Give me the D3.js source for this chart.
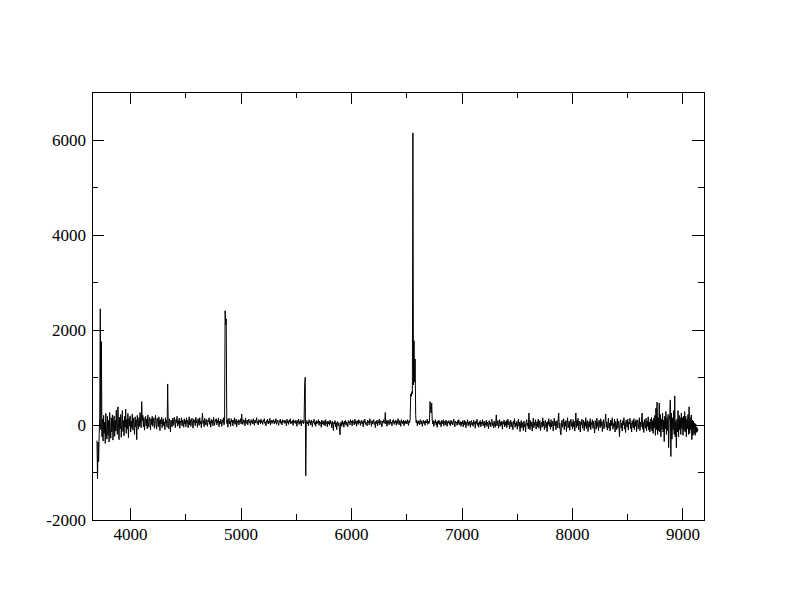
<!DOCTYPE html>
<html>
<head>
<meta charset="utf-8">
<script src="https://cdn.jsdelivr.net/npm/d3@7/dist/d3.min.js"></script>
<style>
  html, body { margin: 0; padding: 0; background: #fff; }
  svg { display: block; }
</style>
</head>
<body>
<svg id="chart" width="792" height="612"></svg>
<script>
// Spectrum sampled every 5 Å; each block lists fluxes from its start wavelength
const sampleStep = 5;

const start3700 = 3700;
const flux3700 = [
  -330, -1130, -360, -770, -200, 150, 2440, -100, 1750, -250,
  120, -340, 200, -180, 60, -390, 240, -120, -300, 180,
  -220, 90, -360, 260, -60, -280, 150, -150, 210, -320,
  40, 190, -240, 100, -130, 310, -90, -200, 380, -60,
  -310, 160, -80, 220, -260, 60, 300, -140, 90, -230,
  180, -50, 330, -180, 120, -90, 240, -270, 140, -20,
  190, -150, 80, -60, 230, -110, 140, 20, -200, 170,
  -40, 110, -310, 200, 30, -90, 150, -30, 260, 40,
  -60, 490, 90, 200, -40, 150, -110, 60, 180, -20,
  120, -80, 210, 30, -50, 160, 70, -100, 130, 10,
  180, -30, 90, 150, -70, 60, 200, 0, -90, 140,
  50, -40, 170, 90, -120, 110, 20, 160, -60, 80,
  130, -20, 60, -100, 150, 40, 90, -50, 860, 20,
  -80, 130, 60, -150, 100, 30, -40, 140, -10, 80,
  160, 20, -60, 110, 50, 180, -30, 90, 10, 140,
  -70, 80, 40, 150, -20, 100, 60, -50, 130, 20,
  90, -40, 150, 30, 100, -60, 70, 170, 0, 110,
  -30, 80, 140, 20, -70, 120, 50, 100, -20, 160,
  40, 90, -50, 130, 60, -10, 150, 20, 80, -60,
  110, 250, 30, 90, -40, 140, 60, 0, 120, 40
];

const start4700 = 4700;
const flux4700 = [
  -30, 100, 70, 150, 10, 80, -50, 120, 40, 90,
  -20, 160, 50, -10, 110, 70, 130, 0, 90, 40,
  140, -40, 80, 20, 120, 60, -30, 100, 50, 150,
  0, 70, 2400, 2100, 2230, 30, 110, -50, 90, 140,
  20, 80, -30, 130, 60, 100, -20, 90, 40, 150,
  10, 70, 120, -40, 80, 50, 110, 0, 90, 60,
  130, 20, 230, 70, 10, 110, 50, 90, -20, 140,
  60, 30, 100, 0, 80, 120, 40, 70, -10, 110,
  50, 90, 20, 130, 60, -10, 100, 40, 80, 150,
  30, 70, 0, 110, 60, 90, 20, 120, 50, 80,
  10, 100, 70, 130, 30, 60, -20, 90, 50, 120,
  20, 80, 40, 140, 0, 70, 100, 30, 90, 60,
  110, 20, 80, 50, 130, 10, 70, 100, 40, -10,
  90, 60, 120, 30, 80, 0, 110, 50, 70, 100,
  30, 90, 60, -20, 120, 40, 80, 10, 100, 60,
  130, 20, 70, 40, 90, -10, 110, 50, 80, 30,
  100, 60, -30, 90, 40, 120, 10, 70, 30, 110,
  -20, 80, 50, 100, 20, 60, 820, 1000, -1070, 40,
  90, 20, 60, -20, 110, 40, 70, 0, 100, 30,
  -40, 80, 50, 120, 10, 60, -30, 90, 20, 70
];

const start5700 = 5700;
const flux5700 = [
  40, 110, -10, 80, 30, 60, -50, 100, 20, 70,
  0, 90, 40, -20, 110, 30, 60, -40, 80, 20,
  70, -10, 100, 30, 50, -60, 80, 10, -120, 60,
  20, 90, -40, 50, -100, 30, 70, -20, 40, -80,
  -210, 30, 60, -30, 90, 10, 50, -50, 80, 20,
  100, -10, 60, 30, -40, 90, 40, 70, 0, 110,
  50, 80, -20, 100, 40, 60, 0, 120, 30, 70,
  -30, 90, 50, 10, 110, 40, 80, -10, 60, 100,
  20, 70, -40, 90, 50, 120, 10, 60, 30, -20,
  100, 40, 80, 0, 130, 50, 70, -30, 90, 20,
  60, 110, 10, 50, -60, 80, 30, 100, -20, 70,
  40, 120, 0, 60, 90, 20, -40, 80, 50, 110,
  30, 70, 260, 20, 90, -30, 60, 100, 40, 0,
  80, 120, 30, 60, -20, 90, 50, 110, 10, 70,
  40, 100, -10, 80, 30, 130, 50, 0, 90, 60,
  -30, 110, 40, 70, 20, 100, -20, 60, 90, 30,
  80, 20, 110, 50, -10, 90, 40, 120, 650, 600,
  700, 650, 6140, 840, 1770, 900, 1385, 200, 40, 100,
  -20, 70, 30, 90, 0, 60, 110, 20, 80, -30,
  50, 100, 30, 70, -10, 90, 40, 60, 120, 10
];

const start6700 = 6700;
const flux6700 = [
  80, 30, 60, 490, 300, 250, 460, 100, 20, 90,
  -30, 70, 40, 110, 0, 60, -50, 80, 30, 100,
  10, 70, 40, -40, 90, 20, 60, 110, -20, 50,
  80, 0, 100, 30, -30, 70, 40, 90, 10, 60,
  -20, 100, 30, 70, 0, 50, 120, 20, -40, 80,
  40, 60, -10, 90, 30, 110, 0, 50, 70, -30,
  60, 20, 90, -40, 40, 100, 0, 70, -60, 50,
  30, 110, -20, 60, 10, 80, -50, 40, 90, 0,
  50, -30, 100, 20, 60, -70, 80, 30, 120, -10,
  40, -50, 70, 10, 90, -40, 60, 20, 110, -20,
  30, 80, -60, 50, 0, 100, -30, 60, 20, -80,
  90, 10, 50, -40, 70, 120, -10, 40, -60, 80,
  20, -50, 60, 210, -20, 40, 90, -70, 30, 110,
  -30, 60, 0, 80, -90, 50, 20, 100, -40, 60,
  -10, 90, -60, 40, 120, 0, 70, -80, 30, 100,
  -40, 60, 10, -100, 80, 20, 130, -50, 40, -20,
  70, -90, 40, 120, -30, 60, -140, 20, 90, -60,
  50, 0, -120, 80, -40, 30, -150, 60, 110, -20,
  40, -80, 250, 10, -100, 90, -30, 60, -130, 20,
  140, -60, 50, -10, 110, -90, 30, 70, -40, 120
];

const start7700 = 7700;
const flux7700 = [
  -70, 40, 90, -120, 20, 60, -50, 150, -20, 80,
  -100, 30, 100, -60, 50, -140, 70, 10, 130, -30,
  60, -90, 110, -40, 20, 80, -130, 50, 140, -20,
  70, -100, 30, 90, -60, 120, 250, -70, 40, -150,
  -210, 50, 100, -50, 20, 130, -100, 60, -20, 90,
  -140, 40, 150, -60, 10, 80, -110, 60, 120, -30,
  50, -90, 110, -40, 70, -130, 30, 250, -60, 90,
  -20, 140, -100, 40, 80, -150, 60, 10, 120, -70,
  30, 100, -120, 60, -30, 150, -80, 40, 90, -140,
  20, 70, -50, 130, -100, 50, 10, 110, -70, 80,
  -40, -170, 90, 20, -90, 140, -30, 60, -120, 100,
  40, -60, 130, -20, 70, -140, 50, 110, -80, 30,
  90, 230, -50, 60, -110, 20, 140, -70, 40, -130,
  100, -20, 60, 150, -90, 30, -40, 120, -150, 70,
  10, -100, 130, -60, 80, -20, -245, 60, 110, -70,
  40, -130, 90, 0, 150, -90, 50, -160, 100, 20,
  -50, 120, -110, 60, 20, 140, -80, 40, -150, 90,
  10, -60, 130, -100, 70, -30, 110, -140, 50, 100,
  -80, 30, 150, -120, 60, -40, 120, 250, -90, 50,
  -160, 110, 20, -70, 140, -130, 80, -30, 170, -110
];

const start8700 = 8700;
const flux8700 = [
  60, -150, 120, -90, 160, -130, 90, -180, 140, -60,
  200, -220, 350, -100, 480, -200, 150, -120, 460, -150,
  220, -250, 120, -90, 250, -150, 100, -350, 180, -80,
  280, -200, 150, -120, 220, -480, 100, 200, 525, -665,
  250, -300, 150, -100, 300, -200, 610, -250, 80, -480,
  120, -150, 300, -250, 200, -100, 150, -200, 250, -80,
  150, -220, 180, -120, 280, -150, 180, -250, 120, -80,
  220, -200, 380, -180, 150, -100, 210, -310, 100, -220,
  80, -180, 40, -220, 20, -160, -50, -140, -80
];

const xTickLabels = [4000, 5000, 6000, 7000, 8000, 9000];
const xMinorTicks = [4500, 5500, 6500, 7500, 8500];
const yTickLabels = [-2000, 0, 2000, 4000, 6000];
const yMinorTicks = [-1000, 1000, 3000, 5000];

const xDomain = [3655, 9195];
const yDomain = [-2000, 7000];

// Build point table
function segment(start, values) {
  return values.map((v, i) => ({ w: start + i * sampleStep, f: v }));
}
const spectrum = [].concat(
  segment(start3700, flux3700),
  segment(start4700, flux4700),
  segment(start5700, flux5700),
  segment(start6700, flux6700),
  segment(start7700, flux7700),
  segment(start8700, flux8700)
);

const svg = d3.select("#chart");
const mLeft = 92, mRight = 704, mTop = 92, mBottom = 520;
const labelFont = '"Liberation Serif"';

const x = d3.scaleLinear().domain(xDomain).range([mLeft, mRight]);
const y = d3.scaleLinear().domain(yDomain).range([mBottom, mTop]);

// clip
svg.append("defs").append("clipPath").attr("id", "clip")
  .append("rect").attr("x", mLeft).attr("y", mTop)
  .attr("width", mRight - mLeft).attr("height", mBottom - mTop);

// spectrum line
const line = d3.line().x(d => x(d.w)).y(d => y(d.f));
svg.append("path")
  .datum(spectrum)
  .attr("clip-path", "url(#clip)")
  .attr("fill", "none")
  .attr("stroke", "#000")
  .attr("stroke-width", 1)
  .attr("d", line);

// axes with inward ticks
function addAxis(axisGen, tx, ty) {
  const g = svg.append("g").attr("transform", `translate(${tx},${ty})`).call(axisGen);
  g.select(".domain").remove();
  g.selectAll("line").attr("stroke", "#000").attr("shape-rendering", "crispEdges");
  return g;
}
const fmt = d => String(d);
function styleLabels(sel) {
  sel.style("font-family", labelFont).style("font-size", "17px").attr("fill", "#000");
}

// bottom major
const gxb = addAxis(d3.axisBottom(x).tickValues(xTickLabels).tickSize(-12).tickFormat(fmt), 0, mBottom);
gxb.selectAll("text").attr("dy", null).attr("y", 20).call(styleLabels);
// bottom minor
addAxis(d3.axisBottom(x).tickValues(xMinorTicks).tickSize(-6).tickFormat(""), 0, mBottom);
// top major/minor
addAxis(d3.axisTop(x).tickValues(xTickLabels).tickSize(-12).tickFormat(""), 0, mTop);
addAxis(d3.axisTop(x).tickValues(xMinorTicks).tickSize(-6).tickFormat(""), 0, mTop);

// left major
const gyl = addAxis(d3.axisLeft(y).tickValues(yTickLabels).tickSize(-12).tickFormat(fmt), mLeft, 0);
gyl.selectAll("text").attr("x", -6).attr("dy", "0.34em").call(styleLabels);
addAxis(d3.axisLeft(y).tickValues(yMinorTicks).tickSize(-6).tickFormat(""), mLeft, 0);
// right
addAxis(d3.axisRight(y).tickValues(yTickLabels).tickSize(-12).tickFormat(""), mRight, 0);
addAxis(d3.axisRight(y).tickValues(yMinorTicks).tickSize(-6).tickFormat(""), mRight, 0);

// frame
svg.append("rect")
  .attr("x", mLeft).attr("y", mTop)
  .attr("width", mRight - mLeft).attr("height", mBottom - mTop)
  .attr("fill", "none").attr("stroke", "#000").attr("stroke-width", 1)
  .attr("shape-rendering", "crispEdges");
</script>
</body>
</html>
